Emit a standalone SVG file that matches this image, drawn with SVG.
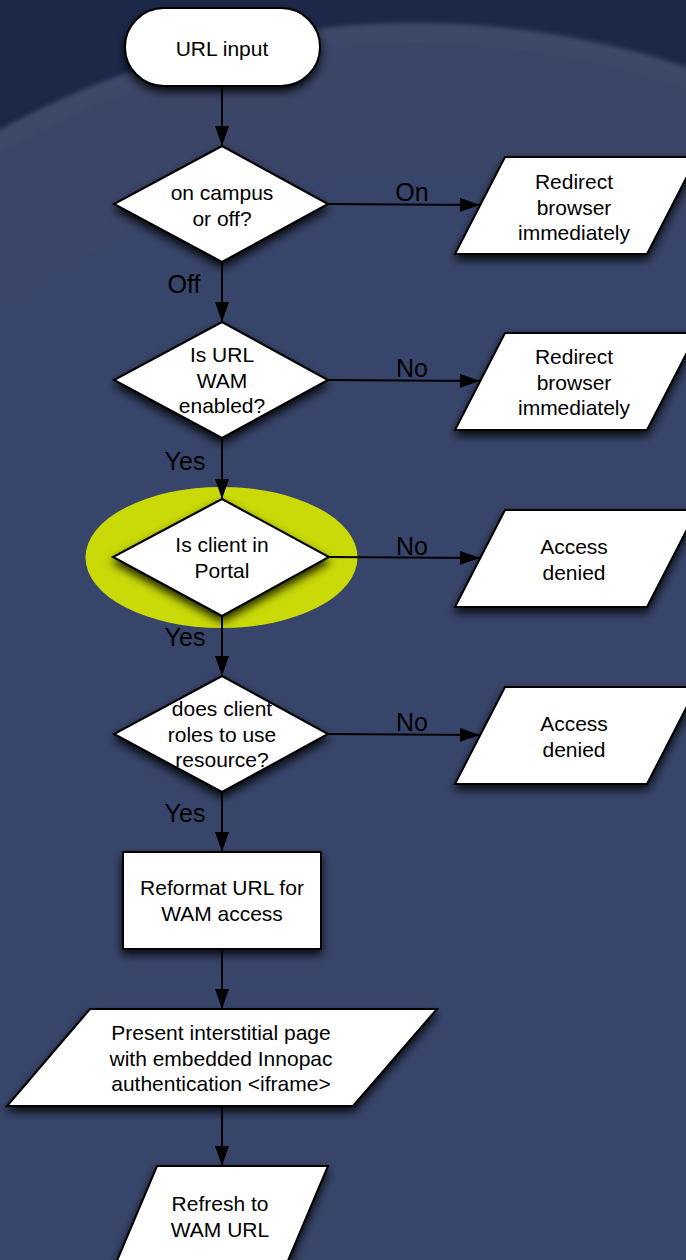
<svg xmlns="http://www.w3.org/2000/svg" width="686" height="1260" viewBox="0 0 686 1260">
<defs>
<style>
.node{fill:#fff;stroke:#000;stroke-width:2;filter:url(#sh)}
.t{font-family:"Liberation Sans",Arial,sans-serif;font-size:21px;fill:#000;text-anchor:middle}
.lbl{font-family:"Liberation Sans",Arial,sans-serif;font-size:25px;fill:#000;text-anchor:middle}
.edge{stroke:#000;stroke-width:2;fill:none;marker-end:url(#ah)}
</style>
<filter id="sh" x="-20%" y="-20%" width="140%" height="150%">
<feDropShadow dx="0" dy="5" stdDeviation="5" flood-color="#000" flood-opacity="0.85"/>
</filter>
<filter id="soft" x="-5%" y="-5%" width="110%" height="110%">
<feGaussianBlur stdDeviation="2"/>
</filter>
<marker id="ah" markerUnits="userSpaceOnUse" markerWidth="20" markerHeight="14" refX="20" refY="7" orient="auto">
<path d="M0,0 L20,7 L0,14 z" fill="#000"/>
</marker>
</defs>
<g id="background">
<rect x="0" y="0" width="686" height="1260" fill="#1d2849"/>
<circle cx="415" cy="882" r="859" fill="#3d4869" filter="url(#soft)"/>
<circle cx="415" cy="882" r="839" fill="#3a4567" filter="url(#soft)"/>
<circle cx="415" cy="882" r="709" fill="#37446a" filter="url(#soft)"/>
</g>
<g id="highlight">
<ellipse cx="221.5" cy="557.5" rx="136" ry="70.5" fill="#c9da08"/>
</g>
<g id="connectors">
<line class="edge" x1="222" y1="86" x2="222" y2="146"/>
<line class="edge" x1="222" y1="262" x2="222" y2="322"/>
<line class="edge" x1="222" y1="438" x2="222" y2="499"/>
<line class="edge" x1="222" y1="616" x2="222" y2="676"/>
<line class="edge" x1="222" y1="792" x2="222" y2="852"/>
<line class="edge" x1="222" y1="949" x2="222" y2="1009"/>
<line class="edge" x1="222" y1="1106" x2="222" y2="1166"/>
<line class="edge" x1="328" y1="204" x2="480" y2="205"/>
<line class="edge" x1="328" y1="380" x2="480" y2="381"/>
<line class="edge" x1="329" y1="557" x2="480" y2="558"/>
<line class="edge" x1="328" y1="734" x2="480" y2="735"/>
<text class="lbl" x="412" y="201">On</text>
<text class="lbl" x="184" y="293">Off</text>
<text class="lbl" x="412" y="377">No</text>
<text class="lbl" x="185" y="470">Yes</text>
<text class="lbl" x="412" y="555">No</text>
<text class="lbl" x="185" y="646">Yes</text>
<text class="lbl" x="412" y="731">No</text>
<text class="lbl" x="185" y="822">Yes</text>
</g>
<g id="start">
<rect class="node" x="125" y="8" width="195" height="78" rx="39" ry="39"/>
<text class="t" x="222" y="56">URL input</text>
</g>
<g id="d1">
<polygon class="node" points="222,146 328,204 222,262 114,204"/>
<text class="t" x="222" y="200">on campus</text>
<text class="t" x="222" y="225.5">or off?</text>
</g>
<g id="p1">
<polygon class="node" points="505,157 697,157 647,254 455,254"/>
<text class="t" x="574" y="189">Redirect</text>
<text class="t" x="574" y="214.5">browser</text>
<text class="t" x="574" y="240">immediately</text>
</g>
<g id="d2">
<polygon class="node" points="222,322 328,380 222,438 114,380"/>
<text class="t" x="222" y="362">Is URL</text>
<text class="t" x="222" y="387.5">WAM</text>
<text class="t" x="222" y="413">enabled?</text>
</g>
<g id="p2">
<polygon class="node" points="505,333 697,333 647,430 455,430"/>
<text class="t" x="574" y="364">Redirect</text>
<text class="t" x="574" y="389.5">browser</text>
<text class="t" x="574" y="415">immediately</text>
</g>
<g id="d3">
<polygon class="node" points="222,499 329,557 222,616 113,557"/>
<text class="t" x="222" y="552">Is client in</text>
<text class="t" x="222" y="577.5">Portal</text>
</g>
<g id="p3">
<polygon class="node" points="505,510 697,510 647,607 455,607"/>
<text class="t" x="574" y="554">Access</text>
<text class="t" x="574" y="579.5">denied</text>
</g>
<g id="d4">
<polygon class="node" points="222,676 328,734 222,792 114,734"/>
<text class="t" x="222" y="716">does client</text>
<text class="t" x="222" y="741.5">roles to use</text>
<text class="t" x="222" y="767">resource?</text>
</g>
<g id="p4">
<polygon class="node" points="505,687 697,687 647,784 455,784"/>
<text class="t" x="574" y="731">Access</text>
<text class="t" x="574" y="756.5">denied</text>
</g>
<g id="r1">
<rect class="node" x="123" y="852" width="198" height="97"/>
<text class="t" x="222" y="895">Reformat URL for</text>
<text class="t" x="222" y="920.5">WAM access</text>
</g>
<g id="p5">
<polygon class="node" points="90,1009 437,1009 353,1106 7,1106"/>
<text class="t" x="221" y="1040">Present interstitial page</text>
<text class="t" x="221" y="1065.5">with embedded Innopac</text>
<text class="t" x="221" y="1091">authentication &lt;iframe&gt;</text>
</g>
<g id="p6">
<polygon class="node" points="157,1166 328,1166 287,1263 116,1263"/>
<text class="t" x="220" y="1211">Refresh to</text>
<text class="t" x="220" y="1236.5">WAM URL</text>
</g>
</svg>
